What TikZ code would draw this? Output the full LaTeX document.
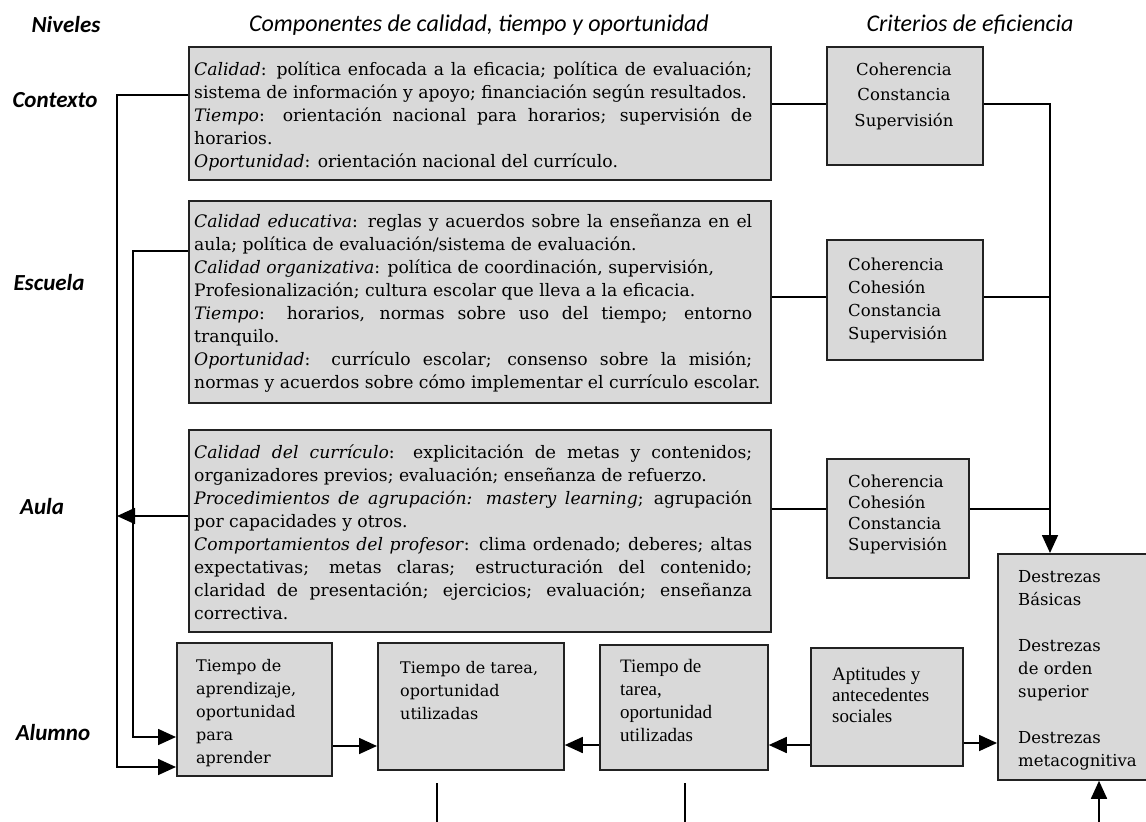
\documentclass[tikz,border=0pt]{standalone}
\usepackage{fontspec}
\setmainfont{DejaVu Serif}
\newfontfamily\hdrfont{Carlito}
\newfontfamily\tnrfont{Liberation Serif}
\usetikzlibrary{arrows.meta}
\definecolor{boxc}{HTML}{D9D9D9}
\definecolor{bordc}{HTML}{222222}
\newcommand\JL[1]{\makebox[558pt][s]{#1}}
\newcommand\RL[1]{\makebox[558pt][l]{#1}}
\begin{document}
\begin{tikzpicture}[x=1pt,y=-1pt,
  box/.style={draw=bordc, fill=boxc, line width=1.8pt, inner sep=0pt, anchor=north west},
  ln/.style={line width=1.7pt, draw=black},
  arr/.style={ln, -{Triangle[length=18pt,width=16pt]}},
  maintxt/.style={inner sep=0pt, align=left, anchor=west, font=\fontsize{17.2}{23}\selectfont},
  smalltxt/.style={inner sep=0pt, align=left, anchor=west, font=\fontsize{16}{23}\selectfont},
  tnrtxt/.style={inner sep=0pt, align=left, anchor=west, font=\tnrfont\fontsize{19}{22}\selectfont},
  hdr/.style={inner sep=0pt, font=\hdrfont\itshape\fontsize{24}{27}\selectfont},
  lvl/.style={inner sep=0pt, font=\hdrfont\itshape\bfseries\fontsize{23}{26}\selectfont}]
\clip (0,0) rectangle (1146,822);
\fill[white] (0,0) rectangle (1146,822);

% headers
\node[lvl] (hN) at (66,25) {Niveles};
\node[hdr] (hC) at (479,25) {Componentes de calidad, tiempo y oportunidad};
\node[hdr] (hK) at (970,25) {Criterios de eficiencia};

% level labels
\node[lvl] (lC) at (55,100) {Contexto};
\node[lvl] (lE) at (49,283) {Escuela};
\node[lvl] (lA) at (42,507) {Aula};
\node[lvl] (lU) at (53,733) {Alumno};

% main boxes
\node[box, minimum width=582pt, minimum height=133pt] (b1) at (188,46) {};
\node[box, minimum width=582pt, minimum height=202pt] (b2) at (188,200) {};
\node[box, minimum width=582pt, minimum height=202pt] (b3) at (188,429) {};

\node[maintxt] (t1) at (194,116) {%
\JL{\textit{Calidad}: política enfocada a la eficacia; política de evaluación;}\\
\RL{sistema de información y apoyo; financiación según resultados.}\\
\JL{\textit{Tiempo}: orientación nacional para horarios; supervisión de}\\
\RL{horarios.}\\
\RL{\textit{Oportunidad}: orientación nacional del currículo.}};

\node[maintxt] (t2) at (194,303) {%
\JL{\textit{Calidad educativa}: reglas y acuerdos sobre la enseñanza en el}\\
\RL{aula; política de evaluación/sistema de evaluación.}\\
\RL{\textit{Calidad organizativa}: política de coordinación, supervisión,}\\
\RL{Profesionalización; cultura escolar que lleva a la eficacia.}\\
\JL{\textit{Tiempo}: horarios, normas sobre uso del tiempo; entorno}\\
\RL{tranquilo.}\\
\JL{\textit{Oportunidad}: currículo escolar; consenso sobre la misión;}\\
\RL{normas y acuerdos sobre cómo implementar el currículo escolar.}};

\node[maintxt] (t3) at (194,532) {%
\JL{\textit{Calidad del currículo}: explicitación de metas y contenidos;}\\
\RL{organizadores previos; evaluación; enseñanza de refuerzo.}\\
\JL{\textit{Procedimientos de agrupación: mastery learning}; agrupación}\\
\RL{por capacidades y otros.}\\
\JL{\textit{Comportamientos del profesor}: clima ordenado; deberes; altas}\\
\JL{expectativas; metas claras; estructuración del contenido;}\\
\JL{claridad de presentación; ejercicios; evaluación; enseñanza}\\
\RL{correctiva.}};

% criteria boxes
\node[box, minimum width=156pt, minimum height=118pt] (c1) at (826,46) {};
\node[box, minimum width=156pt, minimum height=120pt] (c2) at (826,239) {};
\node[box, minimum width=142pt, minimum height=119pt] (c3) at (826,458) {};
\node[inner sep=0pt, align=center, font=\fontsize{16.5}{25.5}\selectfont] (ct1) at (904,96) {Coherencia\\Constancia\\Supervisión};
\node[smalltxt, font=\fontsize{16.5}{23}\selectfont] (ct2) at (848,300) {Coherencia\\Cohesión\\Constancia\\Supervisión};
\node[smalltxt, font=\fontsize{16.5}{21}\selectfont] (ct3) at (848,514) {Coherencia\\Cohesión\\Constancia\\Supervisión};

% outcome box
\node[box, minimum width=170pt, minimum height=226pt] (dz) at (997,553) {};
\node[smalltxt, font=\fontsize{16.5}{23}\selectfont] (dzt) at (1018,670) {Destrezas\\Básicas\\[23pt]Destrezas\\de orden\\superior\\[23pt]Destrezas\\metacognitiva};

% student row
\node[box, minimum width=155pt, minimum height=133pt] (bA) at (176,642) {};
\node[box, minimum width=186pt, minimum height=127pt] (bB) at (377,642) {};
\node[box, minimum width=168pt, minimum height=125pt] (bC) at (599,644) {};
\node[box, minimum width=152pt, minimum height=118pt] (bD) at (810,647) {};
\node[smalltxt] (tA) at (196,713) {Tiempo de\\aprendizaje,\\oportunidad\\para\\aprender};
\node[smalltxt] (tB) at (400,691) {Tiempo de tarea,\\oportunidad\\utilizadas};
\node[tnrtxt, font=\tnrfont\fontsize{19}{23}\selectfont] (tC) at (620,700) {Tiempo de\\tarea,\\oportunidad\\utilizadas};
\node[tnrtxt, font=\tnrfont\fontsize{19}{21}\selectfont] (tD) at (832,695) {Aptitudes y\\antecedentes\\sociales};

% free-end coordinates
\coordinate (j2) at (1050,297);
\coordinate (j3) at (1050,509);
\coordinate (lb1) at (437,783);
\coordinate (lb2) at (437,830);
\coordinate (lc1) at (685,783);
\coordinate (lc2) at (685,830);
\coordinate (up0) at (1099,830);

% connectors: levels
\draw[arr] ([yshift=-49pt]b1.north west) -- ++(-71,0) |- ([yshift=-125pt]bA.north west);
\draw[arr] ([yshift=-51pt]b2.north west) -- ++(-55,0) |- ([yshift=-95pt]bA.north west);
\draw[arr] ([yshift=-87pt]b3.north west) -- ++(-71,0);

% connectors: criteria
\draw[ln] ([yshift=-58pt]b1.north east) -- ([yshift=-58pt]c1.north west);
\draw[arr] ([yshift=-58pt]c1.north east) -| ([xshift=53pt]dz.north west);
\draw[ln] ([yshift=-97pt]b2.north east) -- ([yshift=-58pt]c2.north west);
\draw[ln] ([yshift=-58pt]c2.north east) -- (j2);
\draw[ln] ([yshift=-80pt]b3.north east) -- ([yshift=-51pt]c3.north west);
\draw[ln] ([yshift=-51pt]c3.north east) -- (j3);

% connectors: student row
\draw[arr] ([yshift=-104pt]bA.north east) -- ([yshift=-104pt]bB.north west);
\draw[arr] ([yshift=-101pt]bC.north west) -- ([yshift=-103pt]bB.north east);
\draw[arr] ([yshift=-98pt]bD.north west) -- ([yshift=-101pt]bC.north east);
\draw[arr] ([yshift=-96pt]bD.north east) -- ([yshift=-190pt]dz.north west);
\draw[ln] (lb1) -- (lb2);
\draw[ln] (lc1) -- (lc2);
\draw[arr] (up0) -- (up0 |- dz.south);
\end{tikzpicture}
\end{document}
